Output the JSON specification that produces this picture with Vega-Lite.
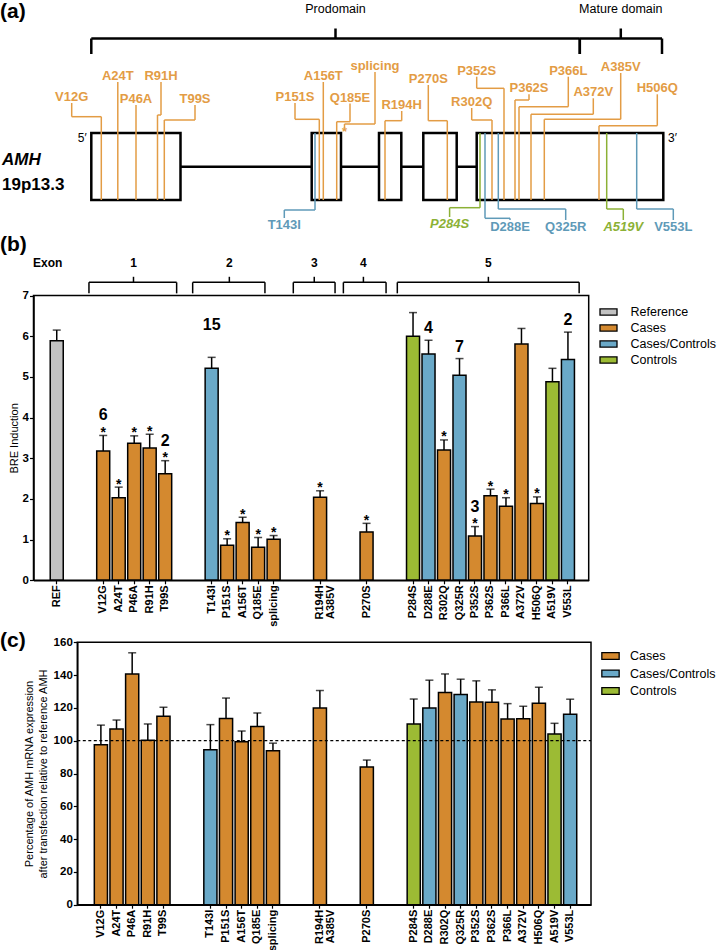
{
"$schema": "https://vega.github.io/schema/vega-lite/v6.json",
"width": 717, "height": 950,
"autosize": {"type": "none"},
"padding": 0,
"background": "white",
"config": {"view": {"stroke": null}, "font": "Liberation Sans", "axis": {"grid": false, "domainColor": "black", "tickColor": "black", "labelColor": "black", "titleColor": "black", "zindex": 1}},
"datasets": {
 "exons": [
  {"exon": 1, "start": 91.3, "end": 180.5},
  {"exon": 2, "start": 311.7, "end": 341},
  {"exon": 3, "start": 379, "end": 401.3},
  {"exon": 4, "start": 423.3, "end": 456.7},
  {"exon": 5, "start": 476.7, "end": 663.3}
 ],
 "variants": [
  {"name": "V12G", "group": "Cases", "side": "top", "pos": 101.3, "edge": 200, "elbow": 116.7, "lab": 71.7, "leg": 103},
  {"name": "A24T", "group": "Cases", "side": "top", "pos": 117.8, "edge": 200, "elbow": 82, "lab": 117.8, "leg": 82},
  {"name": "P46A", "group": "Cases", "side": "top", "pos": 136, "edge": 200, "elbow": 105, "lab": 136, "leg": 105},
  {"name": "R91H", "group": "Cases", "side": "top", "pos": 157.5, "edge": 200, "elbow": 115, "lab": 161, "leg": 82},
  {"name": "T99S", "group": "Cases", "side": "top", "pos": 164.3, "edge": 200, "elbow": 120, "lab": 195, "leg": 105},
  {"name": "P151S", "group": "Cases", "side": "top", "pos": 319.3, "edge": 200, "elbow": 119.3, "lab": 295, "leg": 103},
  {"name": "A156T", "group": "Cases", "side": "top", "pos": 323.3, "edge": 200, "elbow": 82, "lab": 323.3, "leg": 82},
  {"name": "Q185E", "group": "Cases", "side": "top", "pos": 336.7, "edge": 200, "elbow": 121.7, "lab": 350, "leg": 103.5},
  {"name": "splicing", "group": "Cases", "side": "top", "pos": 344.5, "edge": 128, "elbow": 124, "lab": 375, "leg": 72},
  {"name": "R194H", "group": "Cases", "side": "top", "pos": 385, "edge": 200, "elbow": 120.7, "lab": 401.7, "leg": 111},
  {"name": "P270S", "group": "Cases", "side": "top", "pos": 447.3, "edge": 200, "elbow": 120.7, "lab": 428.3, "leg": 85},
  {"name": "R302Q", "group": "Cases", "side": "top", "pos": 492, "edge": 200, "elbow": 120, "lab": 471.7, "leg": 108},
  {"name": "P352S", "group": "Cases", "side": "top", "pos": 504, "edge": 200, "elbow": 88.3, "lab": 476.7, "leg": 76.7},
  {"name": "P362S", "group": "Cases", "side": "top", "pos": 515, "edge": 200, "elbow": 100, "lab": 529, "leg": 94.3},
  {"name": "P366L", "group": "Cases", "side": "top", "pos": 519, "edge": 200, "elbow": 106.7, "lab": 568.3, "leg": 76.7},
  {"name": "A372V", "group": "Cases", "side": "top", "pos": 531, "edge": 200, "elbow": 114.3, "lab": 593.3, "leg": 98.3},
  {"name": "A385V", "group": "Cases", "side": "top", "pos": 544.3, "edge": 200, "elbow": 119.3, "lab": 620.7, "leg": 73},
  {"name": "H506Q", "group": "Cases", "side": "top", "pos": 599, "edge": 200, "elbow": 125.7, "lab": 657.3, "leg": 94.3},
  {"name": "T143I", "group": "Cases/Controls", "side": "bottom", "pos": 315, "edge": 133, "elbow": 210, "lab": 284.3, "leg": 218},
  {"name": "P284S", "group": "Controls", "side": "bottom", "pos": 480, "edge": 133, "elbow": 207.7, "lab": 449.6, "leg": 217},
  {"name": "D288E", "group": "Cases/Controls", "side": "bottom", "pos": 485, "edge": 133, "elbow": 218.3, "lab": 510, "leg": 220},
  {"name": "Q325R", "group": "Cases/Controls", "side": "bottom", "pos": 498.3, "edge": 133, "elbow": 209, "lab": 565.7, "leg": 220},
  {"name": "A519V", "group": "Controls", "side": "bottom", "pos": 606.7, "edge": 133, "elbow": 209, "lab": 623.3, "leg": 220},
  {"name": "V553L", "group": "Cases/Controls", "side": "bottom", "pos": 636.7, "edge": 133, "elbow": 209, "lab": 673.3, "leg": 220}
 ],
 "domains": [
  {"label": "Prodomain", "start": 91.3, "mid": 335.5, "end": 579.8},
  {"label": "Mature domain", "start": 579.8, "mid": 620.8, "end": 662}
 ],
 "primes": [{"t": "5′", "x": 82.2}, {"t": "3′", "x": 672.5}],
 "exonBraces": [
  {"exon": "1", "start": 1.99, "mid": 4.88, "end": 7.68},
  {"exon": "2", "start": 8.72, "mid": 11.1, "end": 13.41},
  {"exon": "3", "start": 15.25, "mid": 16.61, "end": 17.96},
  {"exon": "4", "start": 18.5, "mid": 19.8, "end": 21.27},
  {"exon": "5", "start": 22.0, "mid": 27.91, "end": 33.8}
 ],
 "bre": [
  {"variant": "REF", "group": "Reference", "value": 5.89, "upper": 6.15, "star": false},
  {"variant": "V12G", "group": "Cases", "value": 3.18, "upper": 3.56, "star": true, "n": "6"},
  {"variant": "A24T", "group": "Cases", "value": 2.03, "upper": 2.29, "star": true},
  {"variant": "P46A", "group": "Cases", "value": 3.37, "upper": 3.55, "star": true},
  {"variant": "R91H", "group": "Cases", "value": 3.25, "upper": 3.59, "star": true},
  {"variant": "T99S", "group": "Cases", "value": 2.62, "upper": 2.94, "star": true, "n": "2"},
  {"variant": "T143I", "group": "Cases/Controls", "value": 5.21, "upper": 5.48, "star": false, "n": "15"},
  {"variant": "P151S", "group": "Cases", "value": 0.86, "upper": 1.02, "star": true},
  {"variant": "A156T", "group": "Cases", "value": 1.42, "upper": 1.55, "star": true},
  {"variant": "Q185E", "group": "Cases", "value": 0.81, "upper": 1.05, "star": true},
  {"variant": "splicing", "group": "Cases", "value": 1.01, "upper": 1.10, "star": true},
  {"variant": "R194H/A385V", "group": "Cases", "value": 2.04, "upper": 2.20, "star": true},
  {"variant": "P270S", "group": "Cases", "value": 1.19, "upper": 1.40, "star": true},
  {"variant": "P284S", "group": "Controls", "value": 6.00, "upper": 6.58, "star": false},
  {"variant": "D288E", "group": "Cases/Controls", "value": 5.56, "upper": 5.90, "star": false, "n": "4"},
  {"variant": "R302Q", "group": "Cases", "value": 3.20, "upper": 3.45, "star": true},
  {"variant": "Q325R", "group": "Cases/Controls", "value": 5.04, "upper": 5.45, "star": false, "n": "7"},
  {"variant": "P352S", "group": "Cases", "value": 1.09, "upper": 1.32, "star": true, "n": "3"},
  {"variant": "P362S", "group": "Cases", "value": 2.08, "upper": 2.24, "star": true},
  {"variant": "P366L", "group": "Cases", "value": 1.82, "upper": 2.03, "star": true},
  {"variant": "A372V", "group": "Cases", "value": 5.81, "upper": 6.19, "star": false},
  {"variant": "H506Q", "group": "Cases", "value": 1.89, "upper": 2.05, "star": true},
  {"variant": "A519V", "group": "Controls", "value": 4.88, "upper": 5.21, "star": false},
  {"variant": "V553L", "group": "Cases/Controls", "value": 5.43, "upper": 6.10, "star": false, "n": "2"}
 ],
 "mrna": [
  {"variant": "V12G", "group": "Cases", "value": 97.5, "upper": 109.5},
  {"variant": "A24T", "group": "Cases", "value": 107.1, "upper": 112.6},
  {"variant": "P46A", "group": "Cases", "value": 140.7, "upper": 153.6},
  {"variant": "R91H", "group": "Cases", "value": 100.2, "upper": 110.2},
  {"variant": "T99S", "group": "Cases", "value": 114.9, "upper": 120.4},
  {"variant": "T143I", "group": "Cases/Controls", "value": 94.5, "upper": 109.8},
  {"variant": "P151S", "group": "Cases", "value": 113.6, "upper": 126.0},
  {"variant": "A156T", "group": "Cases", "value": 99.4, "upper": 105.9},
  {"variant": "Q185E", "group": "Cases", "value": 108.7, "upper": 116.9},
  {"variant": "splicing", "group": "Cases", "value": 93.9, "upper": 98.5},
  {"variant": "R194H/A385V", "group": "Cases", "value": 119.9, "upper": 130.6},
  {"variant": "P270S", "group": "Cases", "value": 84.0, "upper": 88.2},
  {"variant": "P284S", "group": "Controls", "value": 110.2, "upper": 125.4},
  {"variant": "D288E", "group": "Cases/Controls", "value": 119.9, "upper": 136.9},
  {"variant": "R302Q", "group": "Cases", "value": 129.4, "upper": 140.7},
  {"variant": "Q325R", "group": "Cases/Controls", "value": 128.1, "upper": 137.5},
  {"variant": "P352S", "group": "Cases", "value": 123.6, "upper": 136.5},
  {"variant": "P362S", "group": "Cases", "value": 123.4, "upper": 131.0},
  {"variant": "P366L", "group": "Cases", "value": 113.2, "upper": 122.6},
  {"variant": "A372V", "group": "Cases", "value": 113.4, "upper": 121.0},
  {"variant": "H506Q", "group": "Cases", "value": 122.8, "upper": 132.6},
  {"variant": "A519V", "group": "Controls", "value": 104.1, "upper": 110.6},
  {"variant": "V553L", "group": "Cases/Controls", "value": 116.1, "upper": 125.3}
 ]
},
"layer": [
 {
  "layer": [
   {"data": {"values": [{}]}, "mark": {"type": "rule", "color": "black", "strokeWidth": 2.5},
    "encoding": {
     "x": {"datum": 180, "type": "quantitative", "scale": {"domain": [0, 717], "range": [0, 717], "nice": false, "zero": false}, "axis": null},
     "x2": {"datum": 477},
     "y": {"datum": 166.7, "type": "quantitative", "scale": {"domain": [0, 250], "range": [0, 250], "nice": false, "zero": false}, "axis": null}}},
   {"data": {"name": "exons"}, "mark": {"type": "rect", "fill": "white", "stroke": "black", "strokeWidth": 2.5},
    "encoding": {
     "x": {"field": "start", "type": "quantitative", "axis": null}, "x2": {"field": "end"},
     "y": {"datum": 133, "type": "quantitative", "axis": null}, "y2": {"datum": 200}}},
   {"data": {"name": "variants"}, "mark": {"type": "rule", "strokeWidth": 1.5},
    "encoding": {
     "x": {"field": "pos", "type": "quantitative", "axis": null},
     "y": {"field": "edge", "type": "quantitative", "axis": null}, "y2": {"field": "elbow"},
     "color": {"field": "group", "type": "nominal", "scale": {"domain": ["Cases", "Cases/Controls", "Controls"], "range": ["#e39c45", "#5f9ab8", "#8cb136"]}, "legend": null}}},
   {"data": {"name": "variants"}, "mark": {"type": "rule", "strokeWidth": 1.5},
    "encoding": {
     "x": {"field": "pos", "type": "quantitative", "axis": null}, "x2": {"field": "lab"},
     "y": {"field": "elbow", "type": "quantitative", "axis": null},
     "color": {"field": "group", "type": "nominal", "legend": null}}},
   {"data": {"name": "variants"}, "mark": {"type": "rule", "strokeWidth": 1.5},
    "encoding": {
     "x": {"field": "lab", "type": "quantitative", "axis": null},
     "y": {"field": "elbow", "type": "quantitative", "axis": null}, "y2": {"field": "leg"},
     "color": {"field": "group", "type": "nominal", "legend": null}}},
   {"data": {"name": "variants"}, "transform": [{"filter": "datum.side == 'top'"}],
    "mark": {"type": "text", "fontWeight": "bold", "fontSize": 13, "baseline": "alphabetic", "dy": -2},
    "encoding": {
     "x": {"field": "lab", "type": "quantitative", "axis": null},
     "y": {"field": "leg", "type": "quantitative", "axis": null},
     "text": {"field": "name"},
     "color": {"field": "group", "type": "nominal", "legend": null}}},
   {"data": {"name": "variants"}, "transform": [{"filter": "datum.side == 'bottom' && datum.group != 'Controls'"}],
    "mark": {"type": "text", "fontWeight": "bold", "fontSize": 13, "baseline": "top", "dy": 1},
    "encoding": {
     "x": {"field": "lab", "type": "quantitative", "axis": null},
     "y": {"field": "leg", "type": "quantitative", "axis": null},
     "text": {"field": "name"},
     "color": {"field": "group", "type": "nominal", "legend": null}}},
   {"data": {"name": "variants"}, "transform": [{"filter": "datum.side == 'bottom' && datum.group == 'Controls'"}],
    "mark": {"type": "text", "fontWeight": "bold", "fontStyle": "italic", "fontSize": 13, "baseline": "top", "dy": 1},
    "encoding": {
     "x": {"field": "lab", "type": "quantitative", "axis": null},
     "y": {"field": "leg", "type": "quantitative", "axis": null},
     "text": {"field": "name"},
     "color": {"field": "group", "type": "nominal", "legend": null}}},
   {"data": {"name": "variants"}, "transform": [{"filter": "datum.name == 'splicing'"}],
    "mark": {"type": "text", "text": "*", "fontWeight": "bold", "fontSize": 13, "baseline": "top", "dy": -2},
    "encoding": {
     "x": {"field": "pos", "type": "quantitative", "axis": null},
     "y": {"field": "edge", "type": "quantitative", "axis": null},
     "color": {"field": "group", "type": "nominal", "legend": null}}},
   {"data": {"name": "domains"}, "mark": {"type": "rule", "color": "black", "strokeWidth": 2.5},
    "encoding": {"x": {"field": "start", "type": "quantitative", "axis": null}, "y": {"datum": 54, "type": "quantitative", "axis": null}, "y2": {"datum": 38.5}}},
   {"data": {"name": "domains"}, "mark": {"type": "rule", "color": "black", "strokeWidth": 2.5},
    "encoding": {"x": {"field": "end", "type": "quantitative", "axis": null}, "y": {"datum": 54, "type": "quantitative", "axis": null}, "y2": {"datum": 38.5}}},
   {"data": {"name": "domains"}, "mark": {"type": "rule", "color": "black", "strokeWidth": 2.5},
    "encoding": {"x": {"field": "start", "type": "quantitative", "axis": null}, "x2": {"field": "end"}, "y": {"datum": 38.5, "type": "quantitative", "axis": null}}},
   {"data": {"name": "domains"}, "mark": {"type": "rule", "color": "black", "strokeWidth": 2.5},
    "encoding": {"x": {"field": "mid", "type": "quantitative", "axis": null}, "y": {"datum": 38.5, "type": "quantitative", "axis": null}, "y2": {"datum": 28.5}}},
   {"data": {"name": "domains"}, "mark": {"type": "text", "fontSize": 12.5, "color": "black"},
    "encoding": {"x": {"field": "mid", "type": "quantitative", "axis": null}, "y": {"datum": 9, "type": "quantitative", "axis": null}, "text": {"field": "label"}}},
   {"data": {"name": "primes"}, "mark": {"type": "text", "fontSize": 12, "color": "black"},
    "encoding": {"x": {"field": "x", "type": "quantitative", "axis": null}, "y": {"datum": 138, "type": "quantitative", "axis": null}, "text": {"field": "t"}}},
   {"data": {"values": [{}]}, "mark": {"type": "text", "text": "(a)", "align": "left", "fontWeight": "bold", "fontSize": 21, "color": "black"},
    "encoding": {"x": {"datum": 0, "type": "quantitative", "axis": null}, "y": {"datum": 12, "type": "quantitative", "axis": null}}},
   {"data": {"values": [{}]}, "mark": {"type": "text", "text": "AMH", "align": "left", "fontWeight": "bold", "fontStyle": "italic", "fontSize": 17, "color": "black"},
    "encoding": {"x": {"datum": 2, "type": "quantitative", "axis": null}, "y": {"datum": 159.5, "type": "quantitative", "axis": null}}},
   {"data": {"values": [{}]}, "mark": {"type": "text", "text": "19p13.3", "align": "left", "fontWeight": "bold", "fontSize": 17, "color": "black"},
    "encoding": {"x": {"datum": 2, "type": "quantitative", "axis": null}, "y": {"datum": 184.5, "type": "quantitative", "axis": null}}}
  ]
 },
 {
  "layer": [
   {"data": {"name": "bre"},
    "encoding": {"x": {"field": "variant", "type": "nominal",
      "scale": {"domain": ["REF","gap1","gap2","V12G","A24T","P46A","R91H","T99S","gap3","gap4","T143I","P151S","A156T","Q185E","splicing","gap5","gap6","R194H/A385V","gap7","gap8","P270S","gap9","gap10","P284S","D288E","R302Q","Q325R","P352S","P362S","P366L","A372V","H506Q","A519V","V553L"],
        "range": [33.5, 588.7], "paddingInner": 0.16, "paddingOuter": 1.1, "align": 0.54},
      "axis": {"orient": "bottom", "offset": -369.7, "title": null, "labelAngle": -90, "labelAlign": "right", "labelBaseline": "middle",
        "labelFontWeight": "bold", "labelFontSize": 11, "labelPadding": 1, "tickSize": 3.5, "tickWidth": 1.2, "domainWidth": 1.5,
        "labelOverlap": false, "labelBound": false, "labelLineHeight": 11,
        "labelExpr": "indexof(datum.value, 'gap') == 0 ? '' : split(datum.value, '/')",
        "tickOpacity": {"condition": {"test": "indexof(datum.value, 'gap') == 0", "value": 0}, "value": 1}}}},
    "layer": [
     {"mark": {"type": "bar", "stroke": "black", "strokeWidth": 1.5},
      "encoding": {
       "y": {"field": "value", "type": "quantitative",
        "scale": {"domain": [0, 7], "range": [580.3, 295.5], "nice": false, "zero": true},
        "axis": {"orient": "left", "offset": -33.5, "values": [0, 1, 2, 3, 4, 5, 6, 7], "format": "d", "title": "BRE Induction", "titleFontSize": 11, "titleFontWeight": "normal", "titlePadding": 3,
          "labelFontWeight": "bold", "labelFontSize": 11.5, "labelPadding": 1, "tickSize": 4, "tickWidth": 1.2, "domainWidth": 1.5}},
       "color": {"field": "group", "type": "nominal",
        "scale": {"domain": ["Reference", "Cases", "Cases/Controls", "Controls"], "range": ["#c2c2c2", "#d4892f", "#6aa9c8", "#9cbb34"]},
        "legend": {"orient": "none", "legendX": 599, "legendY": 302.5, "title": null, "padding": 0, "symbolType": "M-1,-0.36H1V0.36H-1Z", "symbolSize": 289, "symbolStrokeColor": "black", "symbolStrokeWidth": 1.3, "symbolOpacity": 1, "labelFontSize": 12.5, "labelColor": "black", "labelOffset": 12.5, "rowPadding": 0}}}},
     {"mark": {"type": "rule", "color": "black", "strokeWidth": 1.5},
      "encoding": {"y": {"field": "value", "type": "quantitative"}, "y2": {"field": "upper"}}},
     {"mark": {"type": "tick", "color": "black", "thickness": 1.5, "size": 8},
      "encoding": {"y": {"field": "upper", "type": "quantitative"}}},
     {"transform": [{"filter": "datum.star"}],
      "mark": {"type": "text", "text": "*", "fontSize": 14, "fontWeight": "bold", "baseline": "alphabetic", "dy": 1.5, "color": "black"},
      "encoding": {"y": {"field": "upper", "type": "quantitative"}}},
     {"transform": [{"filter": "isValid(datum.n)"}],
      "mark": {"type": "text", "fontSize": 16, "fontWeight": "bold", "baseline": "alphabetic", "color": "black", "dy": {"expr": "datum.variant == 'T143I' ? -27 : (datum.star ? -15 : -7)"}},
      "encoding": {"y": {"field": "upper", "type": "quantitative"}, "text": {"field": "n"}}}
    ]},
   {"layer": [
     {"data": {"values": [{}]}, "mark": {"type": "rect", "fillOpacity": 0, "stroke": "black", "strokeWidth": 1.5},
      "encoding": {
       "x": {"datum": -1.609, "type": "quantitative", "scale": {"domain": [-1.609, 34.42], "range": [33.5, 588.7], "nice": false, "zero": false}, "axis": null},
       "x2": {"datum": 34.42},
       "y": {"datum": 0, "type": "quantitative"}, "y2": {"datum": 7}}},
     {"data": {"name": "exonBraces"}, "mark": {"type": "rule", "color": "black", "strokeWidth": 1.5},
      "encoding": {"x": {"field": "start", "type": "quantitative", "axis": null}, "y": {"datum": 7.053, "type": "quantitative"}, "y2": {"datum": 7.323}}},
     {"data": {"name": "exonBraces"}, "mark": {"type": "rule", "color": "black", "strokeWidth": 1.5},
      "encoding": {"x": {"field": "end", "type": "quantitative", "axis": null}, "y": {"datum": 7.053, "type": "quantitative"}, "y2": {"datum": 7.323}}},
     {"data": {"name": "exonBraces"}, "mark": {"type": "rule", "color": "black", "strokeWidth": 1.5},
      "encoding": {"x": {"field": "start", "type": "quantitative", "axis": null}, "x2": {"field": "end"}, "y": {"datum": 7.323, "type": "quantitative"}}},
     {"data": {"name": "exonBraces"}, "mark": {"type": "rule", "color": "black", "strokeWidth": 1.5},
      "encoding": {"x": {"field": "mid", "type": "quantitative", "axis": null}, "y": {"datum": 7.323, "type": "quantitative"}, "y2": {"datum": 7.46}}},
     {"data": {"name": "exonBraces"}, "mark": {"type": "text", "fontWeight": "bold", "fontSize": 12, "color": "black"},
      "encoding": {"x": {"field": "mid", "type": "quantitative", "axis": null}, "y": {"datum": 7.805, "type": "quantitative"}, "text": {"field": "exon"}}},
     {"data": {"values": [{}]}, "mark": {"type": "text", "text": "Exon", "align": "left", "fontWeight": "bold", "fontSize": 12, "color": "black"},
      "encoding": {"x": {"datum": -1.64, "type": "quantitative", "axis": null}, "y": {"datum": 7.79, "type": "quantitative"}}},
     {"data": {"values": [{}]}, "mark": {"type": "text", "text": "(b)", "align": "left", "fontWeight": "bold", "fontSize": 21, "color": "black"},
      "encoding": {"x": {"datum": -3.785, "type": "quantitative", "axis": null}, "y": {"datum": 8.24, "type": "quantitative"}}}
   ]}
  ],
  "resolve": {"scale": {"x": "independent"}}
 },
 {
  "layer": [
   {"data": {"name": "mrna"},
    "encoding": {"x": {"field": "variant", "type": "nominal",
      "scale": {"domain": ["V12G","A24T","P46A","R91H","T99S","gap3","gap4","T143I","P151S","A156T","Q185E","splicing","gap5","gap6","R194H/A385V","gap7","gap8","P270S","gap9","gap10","P284S","D288E","R302Q","Q325R","P352S","P362S","P366L","A372V","H506Q","A519V","V553L"],
        "range": [77.3, 591], "paddingInner": 0.16, "paddingOuter": 1.245, "align": 0.544},
      "axis": {"orient": "bottom", "offset": -45.3, "title": null, "labelAngle": -90, "labelAlign": "right", "labelBaseline": "middle",
        "labelFontWeight": "bold", "labelFontSize": 11, "labelPadding": 1, "tickSize": 3.5, "tickWidth": 1.2, "domainWidth": 1.5,
        "labelOverlap": false, "labelBound": false, "labelLineHeight": 11,
        "labelExpr": "indexof(datum.value, 'gap') == 0 ? '' : split(datum.value, '/')",
        "tickOpacity": {"condition": {"test": "indexof(datum.value, 'gap') == 0", "value": 0}, "value": 1}}}},
    "layer": [
     {"mark": {"type": "bar", "stroke": "black", "strokeWidth": 1.5},
      "encoding": {
       "y": {"field": "value", "type": "quantitative",
        "scale": {"domain": [0, 160], "range": [904.7, 642.3], "nice": false, "zero": true},
        "axis": {"orient": "left", "offset": -77.3, "values": [0, 20, 40, 60, 80, 100, 120, 140, 160], "format": "d",
          "title": ["Percentage of AMH mRNA expression", "after transfection relative to reference AMH"], "titleFontSize": 11, "titleFontWeight": "normal", "titlePadding": 5, "titleLineHeight": 14,
          "labelFontWeight": "bold", "labelFontSize": 11.5, "labelPadding": 1, "tickSize": 4, "tickWidth": 1.2, "domainWidth": 1.5}},
       "color": {"field": "group", "type": "nominal",
        "scale": {"domain": ["Cases", "Cases/Controls", "Controls"], "range": ["#d4892f", "#6aa9c8", "#9cbb34"]},
        "legend": {"orient": "none", "legendX": 601, "legendY": 646.5, "title": null, "padding": 0, "symbolType": "M-1,-0.4H1V0.4H-1Z", "symbolSize": 300, "symbolStrokeColor": "black", "symbolStrokeWidth": 1.3, "symbolOpacity": 1, "labelFontSize": 12.5, "labelColor": "black", "labelOffset": 10, "rowPadding": 1.5}}}},
     {"mark": {"type": "rule", "color": "black", "strokeWidth": 1.5},
      "encoding": {"y": {"field": "value", "type": "quantitative"}, "y2": {"field": "upper"}}},
     {"mark": {"type": "tick", "color": "black", "thickness": 1.5, "size": 8},
      "encoding": {"y": {"field": "upper", "type": "quantitative"}}}
    ]},
   {"layer": [
     {"data": {"values": [{}]}, "mark": {"type": "rect", "fillOpacity": 0, "stroke": "black", "strokeWidth": 1.5},
      "encoding": {
       "x": {"datum": 0, "type": "quantitative", "scale": {"domain": [0, 1], "range": [77.3, 591], "nice": false, "zero": false}, "axis": null},
       "x2": {"datum": 1},
       "y": {"datum": 0, "type": "quantitative"}, "y2": {"datum": 160}}},
     {"data": {"values": [{}]}, "mark": {"type": "rule", "color": "black", "strokeWidth": 1.3, "strokeDash": [3, 2.5]},
      "encoding": {"x": {"datum": 0, "type": "quantitative", "axis": null}, "x2": {"datum": 1}, "y": {"datum": 100, "type": "quantitative"}}},
     {"data": {"values": [{}]}, "mark": {"type": "text", "text": "(c)", "align": "left", "fontWeight": "bold", "fontSize": 21, "color": "black"},
      "encoding": {"x": {"datum": -0.1505, "type": "quantitative", "axis": null}, "y": {"datum": 160.5, "type": "quantitative"}}}
   ]}
  ],
  "resolve": {"scale": {"x": "independent"}}
 }
],
"resolve": {"scale": {"x": "independent", "y": "independent", "color": "independent"}, "axis": {"x": "independent", "y": "independent"}, "legend": {"color": "independent"}}
}
